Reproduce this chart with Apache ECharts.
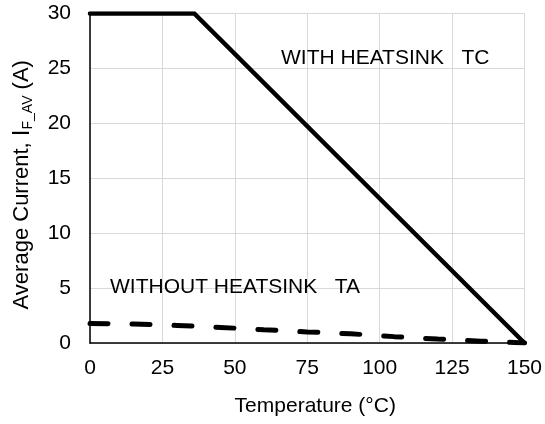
<!DOCTYPE html>
<html>
<head>
<meta charset="utf-8">
<script src="https://cdn.jsdelivr.net/npm/echarts@6/dist/echarts.min.js"></script>
<style>html,body{margin:0;padding:0;background:#fff;}#c{width:545px;height:424px;}</style>
</head>
<body>
<div id="c"></div>
<script>
var xTicks = [0, 25, 50, 75, 100, 125, 150];
var yTicks = [0, 5, 10, 15, 20, 25, 30];
var withHeatsinkTemp = [0, 36, 150];
var withHeatsinkCurrent = [30, 30, 0];
var withoutHeatsinkTemp = [0, 15, 30, 45, 60, 75, 90, 105, 120, 135, 150];
var withoutHeatsinkCurrent = [1.78, 1.72, 1.6, 1.42, 1.21, 1.01, 0.84, 0.58, 0.36, 0.17, 0];
var labelWith = 'WITH HEATSINK   TC';
var labelWithout = 'WITHOUT HEATSINK   TA';

function pairs(xs, ys) { return xs.map(function (x, i) { return [x, ys[i]]; }); }

var FONT = '"Liberation Sans", Arial, sans-serif';
var chart = echarts.init(document.getElementById('c'), null, { renderer: 'canvas' });
chart.setOption({
  animation: false,
  backgroundColor: '#fff',
  grid: { left: 90, right: 19, top: 13.5, bottom: 81, containLabel: false },
  xAxis: {
    type: 'value', min: xTicks[0], max: xTicks[xTicks.length - 1], interval: 25,
    name: 'Temperature (°C)', nameLocation: 'middle', nameGap: 53,
    nameTextStyle: { fontFamily: FONT, fontSize: 21, color: '#000', padding: [0, 0, 0, 16] },
    axisLine: { show: true, onZero: false, lineStyle: { color: '#000', width: 1.5 } },
    axisTick: { show: false },
    axisLabel: { fontFamily: FONT, fontSize: 21, color: '#000', margin: 15 },
    splitLine: { show: true, lineStyle: { color: '#d9d9d9', width: 1 } }
  },
  yAxis: {
    type: 'value', min: yTicks[0], max: yTicks[yTicks.length - 1], interval: 5,
    name: '{a|Average Current, }{i|I}{s|F_AV}{a| (A)}', nameLocation: 'middle', nameGap: 55,
    nameTextStyle: {
      fontFamily: FONT, fontSize: 22, color: '#000', padding: [0, 13, 0, 0],
      rich: {
        a: { fontFamily: FONT, fontSize: 22, lineHeight: 26, color: '#000' },
        i: { fontFamily: FONT, fontSize: 24, lineHeight: 26, color: '#000' },
        s: { fontFamily: FONT, fontSize: 14, lineHeight: 18, verticalAlign: 'bottom', color: '#000' }
      }
    },
    axisLine: { show: true, onZero: false, lineStyle: { color: '#000', width: 1.5 } },
    axisTick: { show: false },
    axisLabel: { fontFamily: FONT, fontSize: 21, color: '#000', margin: 19 },
    splitLine: { show: true, lineStyle: { color: '#d9d9d9', width: 1 } }
  },
  series: [
    {
      type: 'line', data: pairs(withHeatsinkTemp, withHeatsinkCurrent), symbol: 'none',
      lineStyle: { color: '#000', width: 4.5, cap: 'round', join: 'miter' }, z: 3
    },
    {
      type: 'line', data: pairs(withoutHeatsinkTemp, withoutHeatsinkCurrent), symbol: 'none',
      lineStyle: { color: '#000', width: 5, type: [18, 24], cap: 'round' }, z: 3
    }
  ],
  graphic: [
    { type: 'text', left: 281, top: 48, style: { text: labelWith, font: '21px ' + FONT, fill: '#000' }, z: 10 },
    { type: 'text', left: 110, top: 277, style: { text: labelWithout, font: '21px ' + FONT, fill: '#000' }, z: 10 }
  ]
});
</script>
</body>
</html>
